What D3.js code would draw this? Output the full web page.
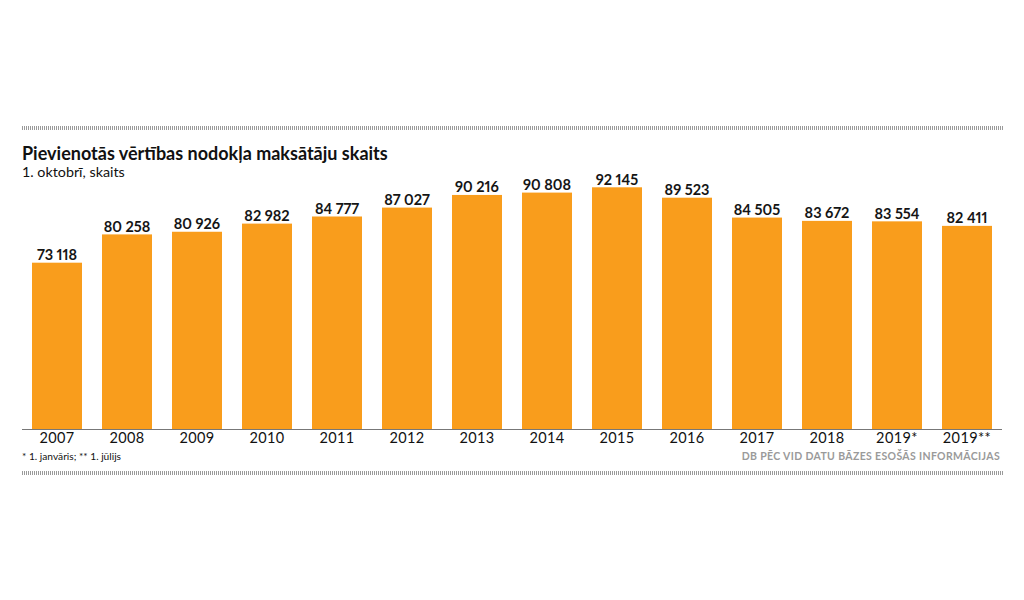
<!DOCTYPE html>
<html>
<head>
<meta charset="utf-8">
<script src="https://cdn.jsdelivr.net/npm/d3@7"></script>
<style>
  html, body { margin: 0; padding: 0; background: #fff; }
  svg { display: block; }
  text { font-family: Lato, "Noto Sans", sans-serif; }
  .val { font-variant-numeric: proportional-nums; font-feature-settings: "pnum" 1; }
</style>
</head>
<body>
<svg id="chart" width="1024" height="600"></svg>
<script>
const categories = ["2007","2008","2009","2010","2011","2012","2013","2014","2015","2016","2017","2018","2019*","2019**"];
const values = [73118, 80258, 80926, 82982, 84777, 87027, 90216, 90808, 92145, 89523, 84505, 83672, 83554, 82411];
const title = "Pievienotās vērtības nodokļa maksātāju skaits";
const subtitle = "1. oktobrī, skaits";
const footnote = "* 1. janvāris; ** 1. jūlijs";
const source = "DB PĒC VID DATU BĀZES ESOŠĀS INFORMĀCIJAS";

const svg = d3.select("#chart");
const left = 22, right = 1002, base = 429;

const x = d3.scaleBand().domain(categories).range([left, right]).paddingInner(2/7).paddingOuter(1/7);
const y = d3.scaleLinear().domain([31150, 92145]).range([base, 187.3]);

function hatch(yTop, h) {
  const g = svg.append("g");
  const xs = d3.range(left, right + 2, 2);
  g.selectAll("rect").data(xs).join("rect")
    .attr("x", d => d).attr("y", yTop).attr("width", 1).attr("height", h)
    .attr("fill", "#9a9a9a");
}
hatch(126, 4);
hatch(471, 4);

svg.append("text").attr("x", 22).attr("y", 160)
  .attr("font-size", 18).attr("font-weight", 700).attr("fill", "#111").text(title);
svg.append("text").attr("x", 22).attr("y", 177)
  .attr("font-size", 14.3).attr("fill", "#111").text(subtitle);

svg.append("g").selectAll("rect").data(values).join("rect")
  .attr("x", (d, i) => x(categories[i]))
  .attr("y", d => y(d))
  .attr("width", x.bandwidth())
  .attr("height", d => base - y(d))
  .attr("fill", "#f99d1c");

const fmt = v => d3.format(",")(v).replace(/,/g, " ");
svg.append("g").selectAll("text").data(values).join("text")
  .attr("class", "val")
  .attr("x", (d, i) => x(categories[i]) + x.bandwidth() / 2)
  .attr("y", d => y(d) - 2.5)
  .attr("text-anchor", "middle")
  .attr("font-size", 14.5).attr("font-weight", 700).attr("fill", "#151515")
  .text(fmt);

const axis = d3.axisBottom(x).tickSize(0).tickPadding(4);
const ag = svg.append("g").attr("transform", `translate(0,${base})`).call(axis);
ag.select(".domain").attr("stroke", "#777").attr("stroke-width", 1).attr("d", `M${left},0.5H${right}`);
ag.selectAll(".tick text").attr("font-size", 14.5).attr("fill", "#111")
  .attr("font-family", "Lato, sans-serif").attr("letter-spacing", 0.4).attr("dy", "0.71em").attr("y", 4);

svg.append("text").attr("x", 22).attr("y", 460)
  .attr("font-size", 10.2).attr("fill", "#111").text(footnote);
svg.append("text").attr("x", 1000).attr("y", 460).attr("text-anchor", "end")
  .attr("font-size", 10.5).attr("font-weight", 700).attr("letter-spacing", 0.35).attr("fill", "#9a9a9a").text(source);
</script>
</body>
</html>
